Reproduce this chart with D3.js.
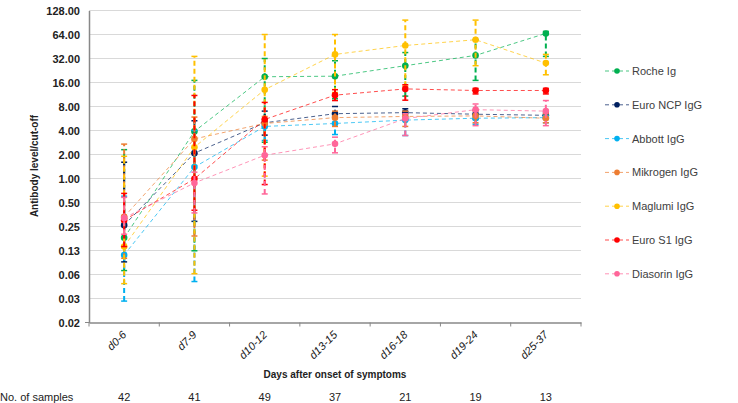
<!DOCTYPE html>
<html><head><meta charset="utf-8">
<script src="https://cdn.jsdelivr.net/npm/d3@7"></script>
<style>body{margin:0;background:#fff}svg{display:block}text{font-family:"Liberation Sans",Arial,sans-serif}</style>
</head><body><svg id="c" width="738" height="403"></svg>
<script>
const categories = ["d0-6","d7-9","d10-12","d13-15","d16-18","d19-24","d25-37"];
const samples = [42,41,49,37,21,19,13];
const yTicks = [128,64,32,16,8,4,2,1,0.5,0.25,0.125,0.0625,0.03125,0.015625];
const yTickLabels = ["128.00","64.00","32.00","16.00","8.00","4.00","2.00","1.00","0.50","0.25","0.13","0.06","0.03","0.02"];
const seriesNames = ["Roche Ig","Euro NCP IgG","Abbott IgG","Mikrogen IgG","Maglumi IgG","Euro S1 IgG","Diasorin IgG"];
const seriesColors = ["#00B050","#002060","#00B0F0","#ED7D31","#FFC000","#FF0000","#FF6699"];
const rocheVal = [0.18,3.9,18.9,19.2,26,35,66];
const rocheHi  = [2.3,17,32,30,38,55,70];
const rocheLo  = [0.07,0.124,2.85,10,10.8,17,34];
const ncpVal = [0.26,2.08,5.0,6.5,6.7,6.4,6.2];
const ncpHi  = [1.6,5.3,7,8,7.5,7.2,6.8];
const ncpLo  = [0.09,0.29,3.5,5,5.5,5.5,5.6];
const abbottVal = [0.11,1.39,4.5,4.9,5.4,5.7,5.8];
const abbottHi  = [0.6,4,5.5,6,6,6.2,6.2];
const abbottLo  = [0.029,0.051,3,3.56,3.46,4.8,5];
const mikroVal = [0.33,3.14,4.9,5.8,6.0,6.1,5.7];
const mikroHi  = [2.7,5.9,6,7,7,7,6.5];
const mikroLo  = [0.1,0.19,1.7,4.5,4.5,5,5];
const maglumiVal = [0.14,2.47,13,36,46.6,55,28];
const maglumiHi  = [1.9,34,64,64,97,97,36];
const maglumiLo  = [0.048,0.064,1.07,12,14.4,26,20];
const s1Val = [0.30,0.99,5.5,11.1,13.3,12.7,12.7];
const s1Hi  = [0.65,11,9,13,15,13.5,13.5];
const s1Lo  = [0.14,0.4,0.84,9.5,9.6,11.5,11.5];
const diaVal = [0.32,0.88,1.96,2.72,5.65,7.3,7.0];
const diaHi  = [0.58,1.2,2.5,3.3,6.5,8.6,9.5];
const diaLo  = [0.2,0.37,0.64,2.1,3.46,4.6,4.6];

const series = [
  {v:rocheVal,hi:rocheHi,lo:rocheLo},
  {v:ncpVal,hi:ncpHi,lo:ncpLo},
  {v:abbottVal,hi:abbottHi,lo:abbottLo},
  {v:mikroVal,hi:mikroHi,lo:mikroLo},
  {v:maglumiVal,hi:maglumiHi,lo:maglumiLo},
  {v:s1Val,hi:s1Hi,lo:s1Lo},
  {v:diaVal,hi:diaHi,lo:diaLo}
].map((s,i)=>({...s,name:seriesNames[i],color:seriesColors[i]}));

const svg = d3.select("#c");
const L=89, R=581, T=10.5, B=322.5;
const x = d3.scaleBand().domain(categories).range([L,R]);
const cx = c => x(c)+x.bandwidth()/2;
const y = d3.scaleLog().base(2).domain([0.015625,128]).range([B,T]);

// gridlines
svg.append("g").selectAll("line").data(yTicks.slice(0,-1)).join("line")
  .attr("x1",L).attr("x2",R).attr("y1",d=>y(d)).attr("y2",d=>y(d))
  .attr("stroke","#d9d9d9").attr("stroke-width",1);

// y axis
const yAxis = d3.axisLeft(y).tickValues(yTicks).tickFormat((d,i)=>yTickLabels[i]).tickSize(0).tickPadding(9);
const gy = svg.append("g").attr("transform",`translate(${L},0)`).call(yAxis);
gy.select(".domain").attr("stroke","#888").attr("stroke-width",1.5);
gy.selectAll("text").attr("font-size",11).attr("font-weight","bold").attr("fill","#222");
svg.append("line").attr("x1",L-4).attr("x2",L).attr("y1",B).attr("y2",B).attr("stroke","#888");

// x axis
const gx = svg.append("g").attr("transform",`translate(0,${B})`)
  .call(d3.axisBottom(x).tickSize(0).tickFormat(""));
gx.select(".domain").attr("stroke","#888").attr("stroke-width",1.5);
const bounds = categories.map(c=>x(c)).concat([R]);
svg.append("g").selectAll("line").data(bounds).join("line")
  .attr("x1",d=>d).attr("x2",d=>d).attr("y1",B).attr("y2",B+4).attr("stroke","#888");
svg.append("g").selectAll("text").data(categories).join("text")
  .attr("transform",d=>`translate(${cx(d)+3},${B+13}) rotate(-45)`)
  .attr("text-anchor","end").attr("font-size",11).attr("font-style","italic").attr("fill","#222")
  .text(d=>d);

// titles
svg.append("text").attr("transform","translate(38,166) rotate(-90)").attr("text-anchor","middle")
  .attr("font-size",10).attr("font-weight","bold").attr("fill","#222").text("Antibody level/cut-off");
svg.append("text").attr("x",335).attr("y",378).attr("text-anchor","middle")
  .attr("font-size",10).attr("font-weight","bold").attr("fill","#222").text("Days after onset of symptoms");
svg.append("text").attr("x",0).attr("y",401).attr("font-size",11).attr("fill","#222").text("No. of samples");
svg.append("g").selectAll("text").data(samples).join("text")
  .attr("x",(d,i)=>cx(categories[i])).attr("y",401).attr("text-anchor","middle")
  .attr("font-size",11).attr("fill","#222").text(d=>d);

// series
const line = d3.line().x((d,i)=>cx(categories[i])).y(d=>y(d));
series.forEach(s=>{
  const g = svg.append("g");
  categories.forEach((c,i)=>{
    g.append("line").attr("x1",cx(c)).attr("x2",cx(c)).attr("y1",y(s.lo[i])).attr("y2",y(s.hi[i]))
      .attr("stroke",s.color).attr("stroke-width",2).attr("stroke-dasharray","5,3");
    [s.lo[i],s.hi[i]].forEach(v=>{
      g.append("line").attr("x1",cx(c)-3).attr("x2",cx(c)+3).attr("y1",y(v)).attr("y2",y(v))
        .attr("stroke",s.color).attr("stroke-width",1.5);
    });
  });
  g.append("path").attr("d",line(s.v)).attr("fill","none").attr("stroke",s.color)
    .attr("stroke-width",1).attr("stroke-dasharray","4,3").attr("opacity",0.7);
  g.selectAll("circle").data(s.v).join("circle")
    .attr("cx",(d,i)=>cx(categories[i])).attr("cy",d=>y(d)).attr("r",3.3).attr("fill",s.color);
});

// legend
const lg = svg.append("g");
series.forEach((s,i)=>{
  const ly = 71 + i*33.8;
  lg.append("line").attr("x1",605).attr("x2",629).attr("y1",ly).attr("y2",ly)
    .attr("stroke",s.color).attr("stroke-width",1).attr("stroke-dasharray","4,3").attr("opacity",0.7);
  lg.append("circle").attr("cx",617).attr("cy",ly).attr("r",2.8).attr("fill",s.color);
  lg.append("text").attr("x",632).attr("y",ly+4).attr("font-size",11).attr("fill","#404040").text(s.name);
});
</script></body></html>
